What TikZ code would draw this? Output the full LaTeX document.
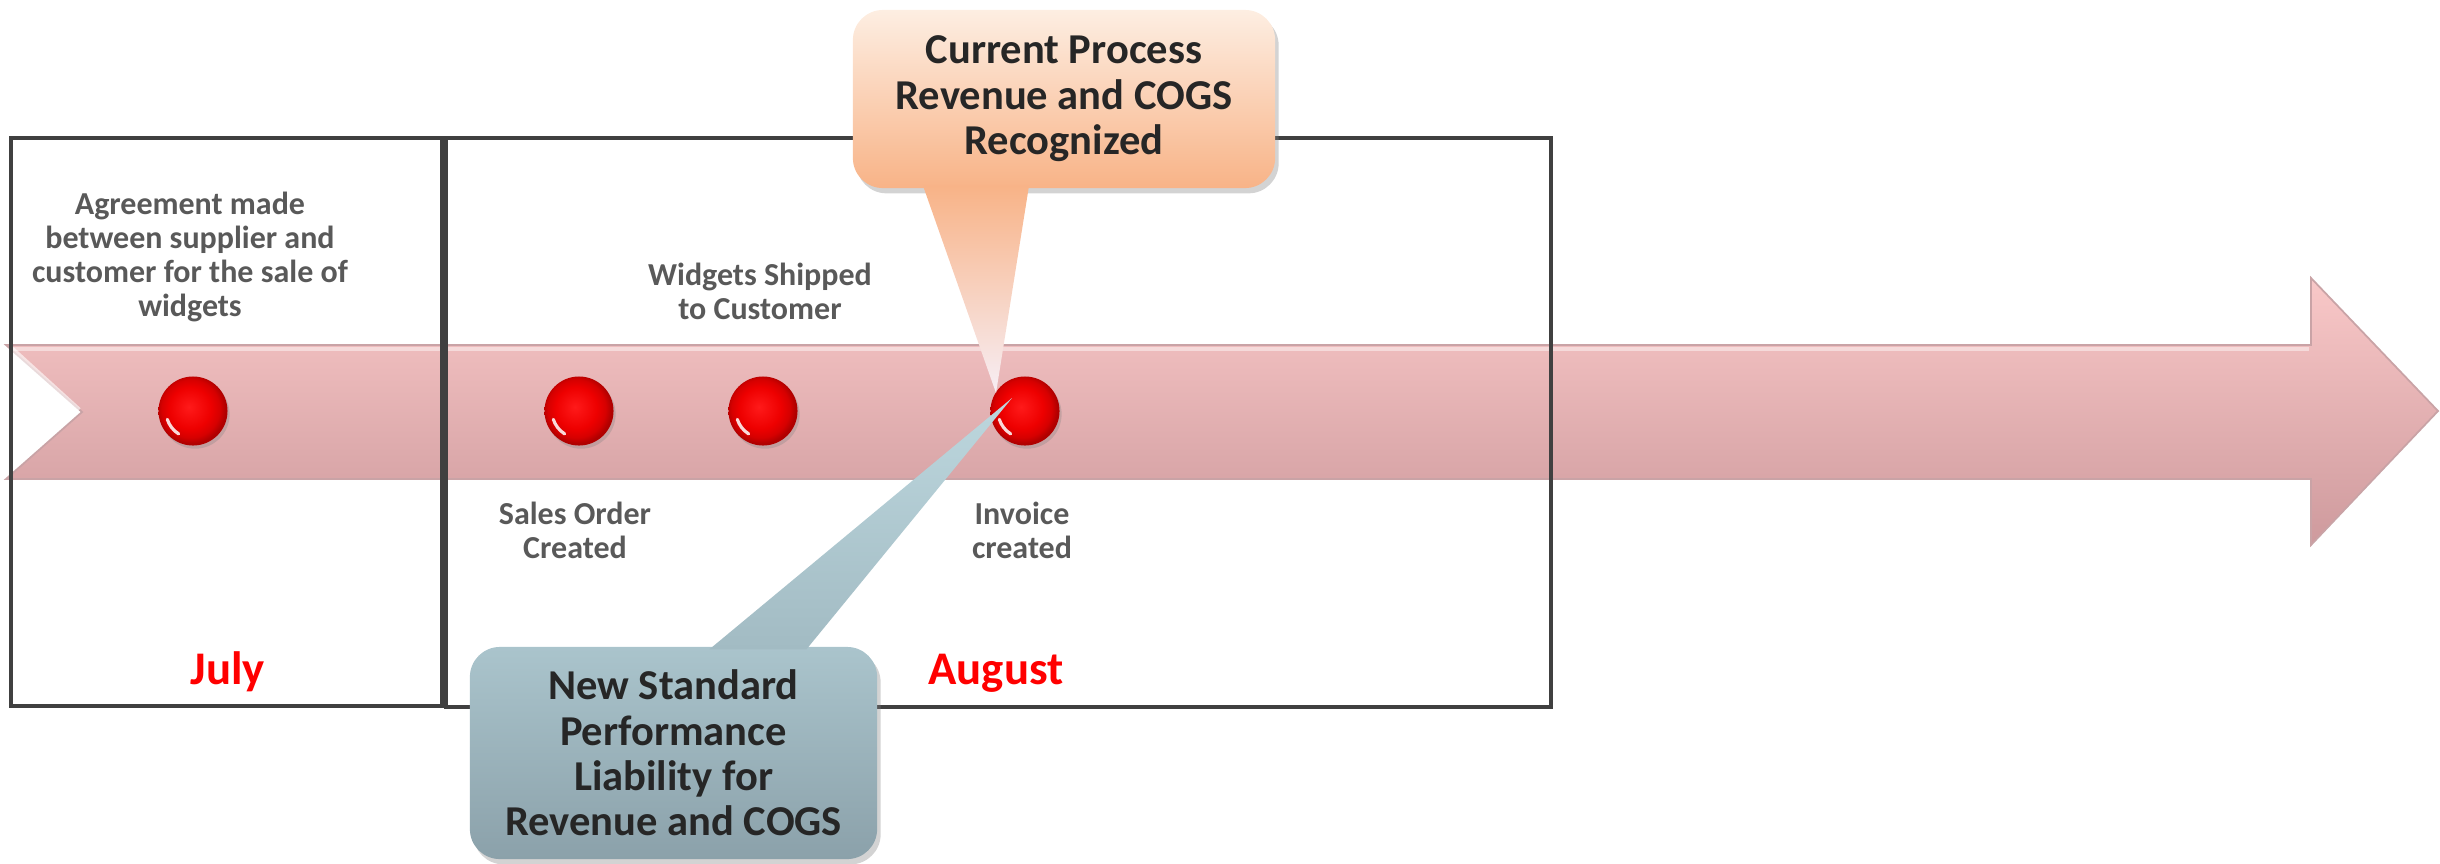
\documentclass[tikz,border=0pt]{standalone}
\usepackage{fontspec}
\setmainfont{Carlito}
\usetikzlibrary{calc,shadows}

\definecolor{txtgray}{HTML}{595959}
\definecolor{txtdark}{HTML}{262626}
\definecolor{framegray}{HTML}{404040}
\definecolor{monthred}{HTML}{FF0000}
\definecolor{bandtop}{HTML}{F9C8C8}
\definecolor{bandbot}{HTML}{CE9A9D}
\definecolor{bandedge}{HTML}{C9A3A6}
\definecolor{dotcore}{HTML}{FF1A1A}
\definecolor{dotred}{HTML}{EE0000}
\definecolor{dotdeep}{HTML}{D60000}
\definecolor{dotrim}{HTML}{B00000}
\definecolor{curtop}{HTML}{FDEEE2}
\definecolor{curbot}{HTML}{F8B387}
\definecolor{curmid}{HTML}{F9CE7E}
\definecolor{curtip}{HTML}{F7EEF5}
\definecolor{newtop}{HTML}{AAC4CC}
\definecolor{newbot}{HTML}{8BA1AA}
\definecolor{newtip}{HTML}{BDD7DE}
\definecolor{newbase}{HTML}{A2BBC3}

% glossy red marker on the timeline
\pgfdeclareradialshading{reddot}{\pgfpoint{-3bp}{3bp}}{%
  color(0bp)=(dotcore); color(15bp)=(dotred); color(21bp)=(dotdeep);
  color(25bp)=(dotrim); color(50bp)=(dotrim)}

\tikzset{
  lbl/.style={font=\fontsize{9.1}{9.7}\selectfont\bfseries, text=txtgray,
    align=center, inner sep=0pt},
  month/.style={font=\fontsize{13.3}{14}\selectfont\bfseries, text=monthred,
    inner sep=0pt, anchor=base},
  dotmark/.style={circle, minimum size=0.69cm, inner sep=0pt, shade, shading=reddot,
    drop shadow={opacity=0.3, shadow xshift=0.6pt, shadow yshift=-0.9pt},
    path picture={\draw[white, opacity=0.85, line width=0.9pt, line cap=round]
      ($(path picture bounding box.center)+(198:0.27cm)$)
      arc[start angle=198, end angle=238, radius=0.27cm];}},
  callbox/.style={rounded corners=0.3cm, inner sep=0pt, align=center,
    font=\fontsize{12.1}{12.9}\selectfont\bfseries, text=txtdark,
    drop shadow={opacity=0.35, shadow xshift=1pt, shadow yshift=-1.5pt}},
  monthframe/.style={draw=framegray, line width=1.15pt}
}

\begin{document}
\begin{tikzpicture}[x=0.01cm, y=-0.01cm]
\useasboundingbox (0,0) rectangle (2440,863);

% timeline arrow
\path[draw=bandedge, line width=0.5pt, top color=bandtop, bottom color=bandbot]
  (6,345) -- (2311,345) -- (2311,278) -- (2438,411) -- (2311,545)
  -- (2311,479) -- (6,479) -- (82,412) -- cycle;
\draw[white, opacity=0.45, line width=1.2pt] (12,349) -- (2309,349);
\draw[white, opacity=0.6, line width=1.4pt] (12,349) -- (79,410);

% month frames
\draw[monthframe] (11,138) rectangle (442,706);
\draw[monthframe] (446,138) rectangle (1551,707);

% events
\node[dotmark] (d1) at (193,411) {};
\node[dotmark] (d2) at (579,411) {};
\node[dotmark] (d3) at (763,411) {};
\node[dotmark] (d4) at (1025,411) {};

\node[lbl] (agree) at (190,257) {Agreement made\\between supplier and\\customer for the sale of\\widgets};
\node[lbl] (ship) at (760,291) {Widgets Shipped\\to Customer};
\node[lbl] (order) at (575,530) {Sales Order\\Created};
\node[lbl] (inv) at (1022,530) {Invoice\\created};

\node[month] (jul) at (228,684) {July};
\node[month] (aug) at (996,684) {August};

% callout: current process
\node[callbox, top color=curtop, bottom color=curbot,
  minimum width=4.22cm, minimum height=1.78cm] (cur) at (1064,99)
  {Current Process\\Revenue and COGS\\Recognized};
\shade[top color=curbot, middle color=curmid, bottom color=curtip]
  ($(cur.south)+(-141,-3)$) -- ($(d4.center)+(-29,-18)$)
  -- ($(cur.south)+(-35,-3)$) -- cycle;

% callout: new standard
\node[callbox, top color=newtop, bottom color=newbot,
  minimum width=4.07cm, minimum height=2.12cm] (new) at (673.5,753)
  {New Standard\\Performance\\Liability for\\Revenue and COGS};
\shade[top color=newtip, bottom color=newbase]
  ($(new.north)+(36,3)$) -- ($(d4.center)+(-13,-13)$)
  -- ($(new.north)+(133,3)$) -- cycle;
\end{tikzpicture}
\end{document}
